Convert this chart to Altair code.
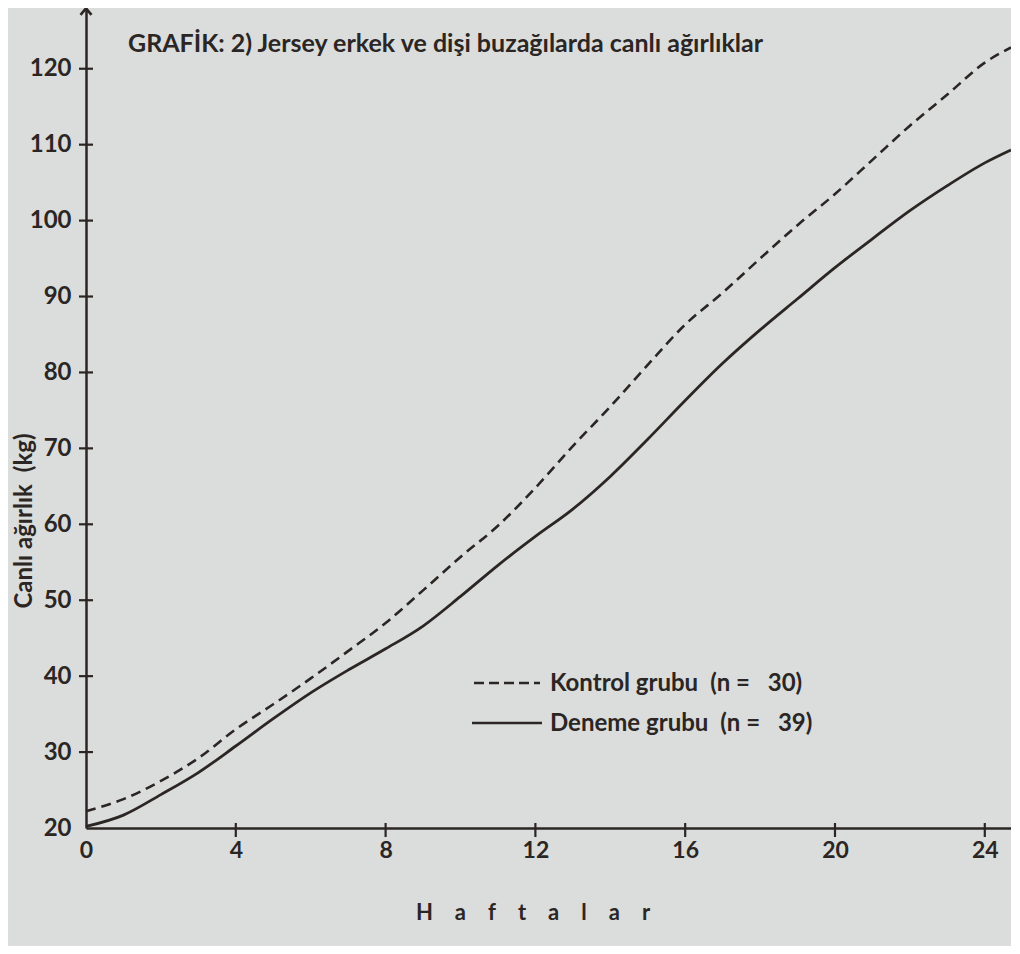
import altair as alt
import pandas as pd

# ---- data ----
weeks = [0, 1, 2, 3, 4, 5, 6, 7, 8, 9, 10, 11, 12, 13, 14, 15, 16, 17, 18, 19, 20, 21, 22, 23, 24, 24.7]
kontrol = [22.2, 23.8, 26.2, 29.2, 33.0, 36.3, 39.7, 43.3, 47.0, 51.3, 55.7, 59.8, 64.8, 70.3, 75.5, 81.0,
           86.3, 90.5, 95.0, 99.4, 103.5, 108.0, 112.5, 116.6, 120.8, 122.8]
deneme = [20.2, 21.7, 24.4, 27.3, 30.8, 34.4, 37.8, 40.8, 43.6, 46.6, 50.5, 54.6, 58.4, 62.0, 66.3, 71.2,
          76.3, 81.2, 85.6, 89.7, 93.8, 97.6, 101.3, 104.6, 107.6, 109.3]
y_tick_values = [20, 30, 40, 50, 60, 70, 80, 90, 100, 110, 120]
y_cross_ticks = [30, 40, 50, 60, 70, 80, 90, 100, 110, 120]
x_tick_values = [0, 4, 8, 12, 16, 20, 24]
x_cross_ticks = [4, 8, 12, 16, 20, 24]
legend_labels = ["Kontrol grubu\u2002(n =\u2002 30)", "Deneme grubu\u2002(n =\u2002 39)"]
title_text = "GRAFİK: 2) Jersey erkek ve dişi buzağılarda canlı ağırlıklar"
x_title = "\u2002\u2002".join(list("Haftalar"))
y_title = "Canlı ağırlık\u2002(kg)"

ink = "#2b2624"
bg = "#dadddc"
font = "Lato"

W, H = 925, 820
xscale = alt.Scale(domain=[0, 24.7], nice=False, zero=False)
yscale = alt.Scale(domain=[20, 128], nice=False, zero=False)

df_k = pd.DataFrame({"Hafta": weeks, "kg": kontrol})
df_d = pd.DataFrame({"Hafta": weeks, "kg": deneme})

x_axis = alt.Axis(values=x_tick_values, ticks=False, grid=False, domain=True, domainColor=ink,
                  domainWidth=2.5, labelFont=font, labelFontSize=23, labelFontWeight="bold",
                  labelColor=ink, labelPadding=11, labelFlush=False, format="d", title=None)
y_axis = alt.Axis(values=y_tick_values, ticks=False, grid=False, domain=True, domainColor=ink,
                  domainWidth=2.5, labelFont=font, labelFontSize=24, labelFontWeight="bold",
                  labelColor=ink, labelPadding=15, labelFlush=False, format="d", title=None)

line_k = alt.Chart(df_k).mark_line(color=ink, strokeWidth=2.6, strokeDash=[10, 6],
                                   interpolate="monotone").encode(
    x=alt.X("Hafta:Q", scale=xscale, axis=x_axis),
    y=alt.Y("kg:Q", scale=yscale, axis=y_axis),
)
line_d = alt.Chart(df_d).mark_line(color=ink, strokeWidth=2.8, interpolate="monotone").encode(
    x=alt.X("Hafta:Q", scale=xscale),
    y=alt.Y("kg:Q", scale=yscale),
)

yt = alt.Chart(pd.DataFrame({"kg": y_cross_ticks})).mark_rule(color=ink, strokeWidth=2.2).encode(
    y=alt.Y("kg:Q", scale=yscale), x=alt.value(-7), x2=alt.value(7))
xt = alt.Chart(pd.DataFrame({"Hafta": x_cross_ticks})).mark_rule(color=ink, strokeWidth=2.2).encode(
    x=alt.X("Hafta:Q", scale=xscale), y=alt.value(H - 5), y2=alt.value(H + 9))

arrow = alt.Chart(pd.DataFrame({"Hafta": [0], "kg": [127.6]})).mark_point(
    shape="M -1 0.7 L 0 -0.5 L 1 0.7", size=120, filled=False, strokeWidth=2.6,
    color=ink, opacity=1).encode(x=alt.X("Hafta:Q", scale=xscale), y=alt.Y("kg:Q", scale=yscale))

title = alt.Chart(pd.DataFrame({"t": [title_text]})).mark_text(
    align="left", baseline="middle", font=font, fontSize=25, fontWeight="bold", color=ink).encode(
    text="t:N", x=alt.value(42), y=alt.value(36))

xtitle = alt.Chart(pd.DataFrame({"t": [x_title]})).mark_text(
    align="center", baseline="middle", font=font, fontSize=22, fontWeight="bold", color=ink).encode(
    text="t:N", x=alt.value(447), y=alt.value(905))
ytitle = alt.Chart(pd.DataFrame({"t": [y_title]})).mark_text(
    align="center", baseline="middle", font=font, fontSize=24, fontWeight="bold", color=ink,
    angle=270).encode(text="t:N", x=alt.value(-61), y=alt.value(513))

leg_k_line = alt.Chart(pd.DataFrame({"a": [0]})).mark_rule(color=ink, strokeWidth=2.6, strokeDash=[10, 5]).encode(
    x=alt.value(388), x2=alt.value(454), y=alt.value(675))
leg_d_line = alt.Chart(pd.DataFrame({"a": [0]})).mark_rule(color=ink, strokeWidth=2.6).encode(
    x=alt.value(386), x2=alt.value(456), y=alt.value(715))
leg_k_text = alt.Chart(pd.DataFrame({"t": [legend_labels[0]]})).mark_text(
    align="left", baseline="middle", font=font, fontSize=24, fontWeight="bold", color=ink).encode(
    text="t:N", x=alt.value(464), y=alt.value(676))
leg_d_text = alt.Chart(pd.DataFrame({"t": [legend_labels[1]]})).mark_text(
    align="left", baseline="middle", font=font, fontSize=24, fontWeight="bold", color=ink).encode(
    text="t:N", x=alt.value(464), y=alt.value(716))

chart = alt.layer(line_k, line_d, yt, xt, arrow, title, xtitle, ytitle,
                  leg_k_line, leg_d_line, leg_k_text, leg_d_text).properties(
    width=W, height=H,
    autosize=alt.AutoSizeParams(type="none"),
    padding={"left": 78, "top": 0, "right": 0, "bottom": 118},
).configure(background=bg).configure_view(stroke=None)

chart.save("out.html", embed_options={"renderer": "svg", "actions": False})
